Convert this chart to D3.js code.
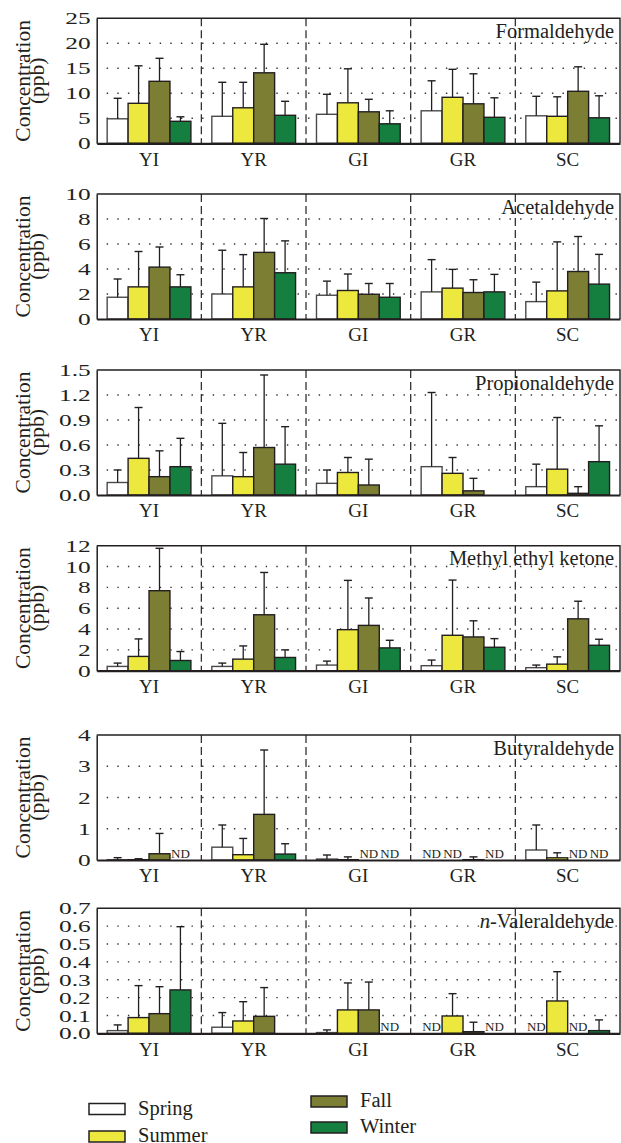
<!DOCTYPE html>
<html>
<head>
<meta charset="utf-8">
<script src="https://cdn.jsdelivr.net/npm/d3@7"></script>
<style>
  body { margin: 0; background: #fff; }
  svg { display: block; }
  svg text { font-family: "Liberation Serif", "DejaVu Serif", "Times New Roman", Times, serif !important; fill: #231f20; }
</style>
</head>
<body>
<svg width="621" height="1143"></svg>
<script>
// sites on the x axis, seasons as bars
const sites = ["YI", "YR", "GI", "GR", "SC"];
const seasons = ["Spring", "Summer", "Fall", "Winter"];
const seasonColors = ["#ffffff", "#ede83d", "#7c7e34", "#147f3f"];

const compounds = ["Formaldehyde", "Acetaldehyde", "Propionaldehyde", "Methyl ethyl ketone", "Butyraldehyde", "n-Valeraldehyde"];
const yMax = [25, 10, 1.5, 12, 4, 0.7];
const yStep = [5, 2, 0.3, 2, 1, 0.1];
const yFormat = ["d", "d", ".1f", "d", "d", ".1f"];

// mean concentrations (ppb), rows = sites, cols = seasons; null = ND
const formaldehydeMean = [[4.9, 8.0, 12.4, 4.4], [5.4, 7.1, 14.1, 5.6], [5.8, 8.1, 6.3, 3.9], [6.5, 9.2, 7.9, 5.2], [5.5, 5.4, 10.4, 5.1]];
const formaldehydeSd = [[4.1, 7.5, 4.6, 0.9], [6.8, 5.1, 5.7, 2.8], [4.0, 6.8, 2.5, 2.6], [6.0, 5.6, 6.0, 3.9], [3.9, 3.9, 4.9, 4.4]];

const acetaldehydeMean = [[1.74, 2.57, 4.15, 2.57], [2.0, 2.57, 5.33, 3.7], [1.9, 2.28, 1.98, 1.74], [2.17, 2.47, 2.12, 2.17], [1.39, 2.25, 3.8, 2.79]];
const acetaldehydeSd = [[1.46, 2.83, 1.61, 0.97], [3.5, 2.58, 2.71, 2.55], [1.13, 1.32, 0.86, 1.1], [2.58, 1.5, 1.02, 1.4], [1.56, 3.92, 2.8, 2.38]];

const propionaldehydeMean = [[0.15, 0.44, 0.22, 0.34], [0.23, 0.22, 0.57, 0.37], [0.14, 0.27, 0.12, 0], [0.34, 0.26, 0.05, 0], [0.10, 0.31, 0.02, 0.40]];
const propionaldehydeSd = [[0.15, 0.61, 0.31, 0.34], [0.63, 0.29, 0.87, 0.45], [0.16, 0.18, 0.31, null], [0.89, 0.19, 0.15, null], [0.27, 0.62, 0.08, 0.43]];

const mekMean = [[0.41, 1.37, 7.68, 0.98], [0.41, 1.11, 5.37, 1.27], [0.54, 3.94, 4.35, 2.19], [0.48, 3.4, 3.24, 2.25], [0.29, 0.63, 4.98, 2.44]];
const mekSd = [[0.32, 1.68, 4.07, 0.86], [0.32, 1.27, 4.06, 0.73], [0.38, 4.73, 2.63, 0.73], [0.54, 5.3, 1.55, 0.83], [0.25, 0.7, 1.69, 0.58]];

const butyraldehydeMean = [[0.01, 0.01, 0.2, null], [0.41, 0.17, 1.46, 0.19], [0.03, 0.01, null, null], [null, null, 0.01, null], [0.32, 0.07, null, null]];
const butyraldehydeSd = [[0.065, 0.03, 0.65, null], [0.71, 0.52, 2.06, 0.33], [0.13, 0.09, null, null], [null, null, 0.09, null], [0.8, 0.16, null, null]];

const valeraldehydeMean = [[0.015, 0.088, 0.11, 0.243], [0.034, 0.069, 0.095, 0], [0.004, 0.131, 0.131, null], [null, 0.097, 0.009, null], [null, 0.181, null, 0.015]];
const valeraldehydeSd = [[0.032, 0.179, 0.151, 0.354], [0.082, 0.108, 0.161, null], [0.015, 0.151, 0.156, null], [null, 0.125, 0.053, null], [null, 0.164, null, 0.06]];

const means = [formaldehydeMean, acetaldehydeMean, propionaldehydeMean, mekMean, butyraldehydeMean, valeraldehydeMean];
const sds = [formaldehydeSd, acetaldehydeSd, propionaldehydeSd, mekSd, butyraldehydeSd, valeraldehydeSd];

// layout
const svg = d3.select("svg");
const plotLeft = 96.7;
const plotRight = 620;
const panelTops = [18.3, 194, 370, 545.7, 735, 908.3];
const panelH = 125;
const ink = "#231f20";
const tickStretch = 1.45; // the source's tick digits are set wide

const x0 = d3.scaleBand().domain(sites).range([plotLeft, plotRight]);
const x1 = d3.scaleBand().domain(seasons).range([0, x0.bandwidth()]).paddingOuter(0.5);

compounds.forEach((name, k) => {
  const top = panelTops[k];
  const bottom = top + panelH;
  const g = svg.append("g");

  const y = d3.scaleLinear().domain([0, yMax[k]]).range([bottom, top]);
  const ticks = d3.range(0, yMax[k] + yStep[k] / 2, yStep[k]);

  // dotted gridlines
  g.selectAll(".grid")
    .data(ticks.slice(1, -1))
    .join("line")
    .attr("x1", plotLeft + 10)
    .attr("x2", plotRight)
    .attr("y1", d => y(d))
    .attr("y2", d => y(d))
    .attr("stroke", "#333")
    .attr("stroke-width", 1.4)
    .attr("stroke-dasharray", "1.4 9.2");

  // dashed dividers between sites
  g.selectAll(".divider")
    .data(sites.slice(1))
    .join("line")
    .attr("x1", d => x0(d))
    .attr("x2", d => x0(d))
    .attr("y1", top)
    .attr("y2", bottom)
    .attr("stroke", "#333")
    .attr("stroke-width", 1.3)
    .attr("stroke-dasharray", "8 4");

  // flatten data
  const cells = [];
  sites.forEach((s, i) => {
    seasons.forEach((se, j) => {
      cells.push({ site: s, season: se, j: j, v: means[k][i][j], sd: sds[k][i][j] });
    });
  });

  const bx = d => x0(d.site) + x1(d.season);

  g.selectAll(".bar")
    .data(cells.filter(d => d.v !== null && d.v > 0))
    .join("rect")
    .attr("x", bx)
    .attr("y", d => y(d.v))
    .attr("width", x1.bandwidth())
    .attr("height", d => bottom - y(d.v))
    .attr("fill", d => seasonColors[d.j])
    .attr("stroke", d => d.j === 0 ? "#4a4a4a" : ink)
    .attr("stroke-width", 1.4);

  // error bars (upper half only)
  const errs = cells.filter(d => d.v !== null && d.sd);
  g.selectAll(".err")
    .data(errs)
    .join("line")
    .attr("x1", d => bx(d) + x1.bandwidth() / 2)
    .attr("x2", d => bx(d) + x1.bandwidth() / 2)
    .attr("y1", d => y(d.v))
    .attr("y2", d => y(d.v + d.sd))
    .attr("stroke", ink)
    .attr("stroke-width", 1.3);
  g.selectAll(".cap")
    .data(errs)
    .join("line")
    .attr("x1", d => bx(d) + x1.bandwidth() / 2 - 4)
    .attr("x2", d => bx(d) + x1.bandwidth() / 2 + 4)
    .attr("y1", d => y(d.v + d.sd))
    .attr("y2", d => y(d.v + d.sd))
    .attr("stroke", ink)
    .attr("stroke-width", 1.4);

  // ND labels
  g.selectAll(".nd")
    .data(cells.filter(d => d.v === null))
    .join("text")
    .attr("x", d => bx(d) + x1.bandwidth() / 2)
    .attr("y", bottom - 2)
    .attr("text-anchor", "middle")
    .attr("font-size", 13)
    .text("ND");

  // box: top and right borders
  g.append("path")
    .attr("d", `M${plotLeft},${top}H${plotRight}V${bottom}`)
    .attr("fill", "none")
    .attr("stroke", ink)
    .attr("stroke-width", 1.4);

  // left axis
  const yAxis = g.append("g")
    .attr("transform", `translate(${plotLeft},0)`)
    .call(d3.axisLeft(y).tickValues(ticks).tickFormat(d3.format(yFormat[k])).tickSize(0).tickPadding(6));
  yAxis.attr("font-family", null);
  yAxis.select(".domain").attr("stroke", ink).attr("stroke-width", 1.5);
  yAxis.selectAll("text")
    .attr("font-size", 17.5)
    .attr("fill", ink)
    .attr("x", -6 / tickStretch)
    .attr("transform", `scale(${tickStretch},1)`);

  // bottom axis
  const xAxis = g.append("g")
    .attr("transform", `translate(0,${bottom})`)
    .call(d3.axisBottom(x0).tickSize(0).tickPadding(9));
  xAxis.attr("font-family", null);
  xAxis.select(".domain").attr("stroke", ink).attr("stroke-width", 2.2);
  xAxis.selectAll("text").attr("font-size", 19).attr("fill", ink);

  // compound name
  const title = g.append("text")
    .attr("x", 614)
    .attr("y", top + 19.5)
    .attr("text-anchor", "end")
    .attr("font-size", 20.5);
  if (name.startsWith("n-")) {
    title.append("tspan").attr("font-style", "italic").text("n");
    title.append("tspan").text(name.slice(1));
  } else {
    title.text(name);
  }

  // y label
  const lab = g.append("text")
    .attr("transform", `translate(0,${top + panelH / 2}) rotate(-90)`)
    .attr("text-anchor", "middle")
    .attr("font-size", 21.5);
  lab.append("tspan").attr("x", 0).attr("y", 29.5).text("Concentration");
  lab.append("tspan").attr("x", 0).attr("y", 43.5).text("(ppb)");
});

// legend
const legendPos = [[89, 1103.5], [89, 1131], [311, 1096], [311, 1122]];
const legend = svg.append("g");
seasons.forEach((s, j) => {
  const [lx, ly] = legendPos[j];
  legend.append("rect")
    .attr("x", lx)
    .attr("y", ly)
    .attr("width", 36)
    .attr("height", 11)
    .attr("fill", seasonColors[j])
    .attr("stroke", ink)
    .attr("stroke-width", 1.5);
  legend.append("text")
    .attr("x", lx + 49)
    .attr("y", ly + 11)
    .attr("font-size", 20.5)
    .text(s);
});
</script>
</body>
</html>
